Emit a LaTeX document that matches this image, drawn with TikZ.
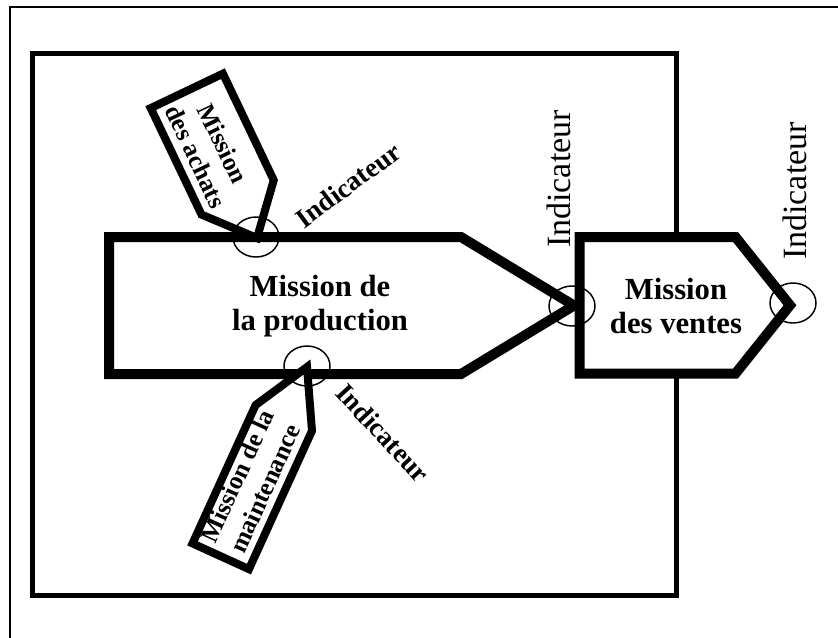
\documentclass[tikz,border=0pt]{standalone}
\usepackage{fontspec}
\setmainfont{Liberation Serif}
\begin{document}
\begin{tikzpicture}[x=0.75pt, y=0.75pt,
	cadre/.style={line width=3.75pt},
	mission/.style={line width=7.5pt, fill=white},
	tagbox/.style={line width=6pt, fill=white},
	indic/.style={line width=1.1pt},
	grand/.style={font=\fontsize{23}{26}\selectfont\bfseries, align=center},
	petit/.style={font=\fontsize{19}{22.5}\selectfont\bfseries, align=center},
	lab/.style={font=\fontsize{25.5}{28}\selectfont, rotate=90},
	rlab/.style={font=\fontsize{20.5}{24}\selectfont\bfseries}]
	\useasboundingbox (0,0) rectangle (838,-637);
	% cadres
	\draw[line width=1pt] (10,-645) |- (845,-7);
	\draw[cadre] (32.5,-53.5) rectangle (676,-595);
	% missions principales
	\draw[mission] (109,-237) -- ++(352,0) -- (574,-305.5) -- (461,-374) -- ++(-352,0) -- cycle;
	\draw[mission] (579.5,-237) -- ++(156,0) -- (790,-305.25) -- (735.5,-373.5) -- ++(-156,0) -- cycle;
	\node[grand] (prod) at (320,-306) {Mission de\\la production};
	\node[grand] (vente) at (676,-306) {Mission\\des ventes};
	% missions rattachees
	\begin{scope}[shift={(257,-238)}, rotate=-64.5]
		\draw[tagbox] (0,0) -- (-45,40) -- ++(-118,0) -- ++(0,-80) -- ++(118,0) -- cycle;
		\node[petit, transform shape] (achat) at (-100,-5) {Mission\\des achats};
	\end{scope}
	\begin{scope}[shift={(307,-367)}, rotate=65.5]
		\draw[tagbox] (0,0) -- (-56,31) -- ++(-152,0) -- ++(0,-62) -- ++(152,0) -- cycle;
		\node[petit, transform shape] (maint) at (-128,3) {Mission de la\\maintenance};
	\end{scope}
	% indicateurs
	\coordinate (jachat) at (256,-237);
	\coordinate (jmaint) at (307,-366);
	\coordinate (jprod) at (572,-306);
	\coordinate (jvente) at (793,-303);
	\foreach \j in {jachat, jmaint, jprod, jvente}
		\draw[indic] (\j) ellipse [x radius=23, y radius=20];
	\node[lab] (iprod) at (559,-179) {Indicateur};
	\node[lab] (ivente) at (795,-191) {Indicateur};
	\node[rlab, rotate=36.5] (iachat) at (348,-185) {Indicateur};
	\node[rlab, rotate=-47.3] (imaint) at (383,-433) {Indicateur};
\end{tikzpicture}
\end{document}
